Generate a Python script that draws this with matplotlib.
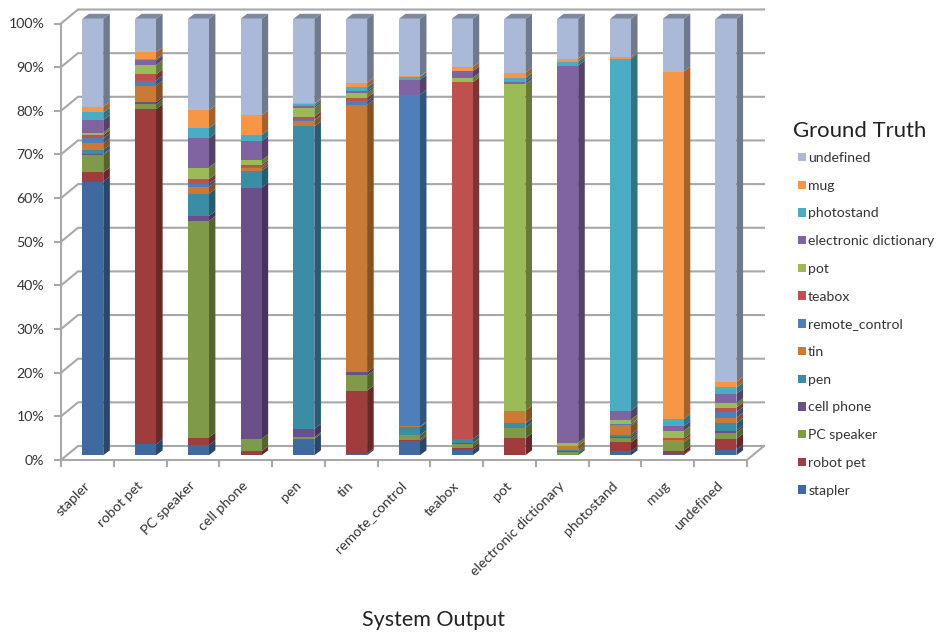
import numpy as np
import matplotlib
matplotlib.use("Agg")
import matplotlib.pyplot as plt
from matplotlib.patches import Patch, Polygon
from matplotlib.colors import to_rgb
from matplotlib.transforms import ScaledTranslation

plt.rcParams['font.family'] = ['Lato', 'DejaVu Sans']

categories = ["stapler", "robot pet", "PC speaker", "cell phone", "pen", "tin", "remote_control",
              "teabox", "pot", "electronic dictionary", "photostand", "mug", "undefined"]

# share of each ground truth class per system output, bottom of the stack first
stapler = [62.7, 2.5, 2.3, 0, 3.75, 0.4, 3.2, 1.2, 0, 0, 0.9, 0.2, 1.3]
robot_pet = [2.1, 76.8, 1.77, 0.9, 0, 14.4, 0.3, 0.55, 3.9, 0, 2.05, 0.8, 2.5]
pc_speaker = [4.0, 1.1, 49.6, 2.85, 0.4, 3.5, 1.07, 0.9, 2.45, 0.7, 0.9, 2.0, 1.4]
cell_phone = [0.2, 0.5, 1.15, 57.55, 1.9, 0.7, 0, 0.1, 0, 0.2, 0.4, 0, 0.45]
pen = [1.0, 0, 5.1, 3.85, 69.3, 0, 1.84, 0.9, 1.0, 0.35, 0.5, 0, 1.7]
tin = [1.5, 3.8, 1.6, 0.65, 1.35, 61.25, 0.2, 0, 2.9, 0.9, 2.1, 0.4, 1.25]
remote_control = [1.1, 1.15, 0.7, 0.3, 0.2, 0.9, 75.95, 0, 0, 0, 0.3, 0, 1.3]
teabox = [0.75, 1.4, 1.0, 0.4, 0.65, 0.75, 0, 81.8, 0, 0, 0, 0.45, 1.05]
pot = [0.6, 2.2, 2.7, 1.05, 2.0, 1.1, 0, 1.0, 74.85, 0.75, 1.05, 1.75, 1.0]
electronic_dictionary = [2.85, 1.0, 6.7, 4.4, 0.4, 0.4, 3.45, 1.5, 0.5, 86.4, 2.05, 1.05, 2.15]
photostand = [1.75, 0.3, 2.3, 1.4, 0.45, 0.9, 0.6, 0, 0.85, 0.9, 80.65, 1.7, 1.45]
mug = [1.3, 1.55, 4.1, 4.5, 0.25, 1.05, 0.2, 1.0, 1.2, 0.7, 0.45, 79.55, 1.3]
undefined = [20.15, 7.7, 20.98, 22.15, 19.35, 14.65, 13.19, 11.05, 12.35, 9.1, 8.65, 12.1, 83.15]

series = [stapler, robot_pet, pc_speaker, cell_phone, pen, tin, remote_control,
          teabox, pot, electronic_dictionary, photostand, mug, undefined]
colors = ["#3F6A9F", "#9E3D3B", "#7F9A48", "#6A4F8A", "#3B8DA6", "#CB7A36", "#4E7FBB",
          "#BE504D", "#9BBB59", "#8064A2", "#4BACC6", "#F79646", "#AAB9D7"]
grid_col = "#A8A8A8"

W, H = 938, 633
fig = plt.figure(figsize=(W / 100, H / 100), dpi=100)
# axes box is the front edge of the chart floor and wall
ax = fig.add_axes([61 / W, 1 - 460 / H, 686 / W, 436.5 / H])
ax.set_xlim(0, 13)
ax.set_ylim(0, 100)
px_x = 13 / 686
px_y = 100 / 436.5

# depth of the chart box
back_x, back_y = 17 * px_x, 14 * px_y
# bars sit part way into the box
front_x, front_y = 5.5 * px_x, 4.7 * px_y
depth_x, depth_y = 6.6 * px_x, 5 * px_y
bar_w = 21 * px_x

for v in range(0, 101, 10):
    ax.plot([0, back_x, 13 + back_x], [v, v + back_y, v + back_y], color=grid_col, lw=1.5,
            clip_on=False, zorder=1, solid_joinstyle='miter')
ax.plot([13, 13 + back_x], [0, back_y], color=grid_col, lw=1.5, clip_on=False, zorder=1)


def darker(col, f):
    return tuple(c * f for c in to_rgb(col))


data = np.array(series, dtype=float)
tops = np.cumsum(data, axis=0)
for i in range(len(categories)):
    x0 = i + 0.5 - bar_w / 2 + front_x - 0.5 * depth_x + 0.06
    x1 = x0 + bar_w
    z = 3 + i
    for j, col in enumerate(colors):
        if data[j, i] == 0:
            continue
        y1 = tops[j, i] + front_y
        y0 = y1 - data[j, i]
        ax.add_patch(Polygon([(x1, y0), (x1 + depth_x, y0 + depth_y), (x1 + depth_x, y1 + depth_y), (x1, y1)],
                             fc=darker(col, 0.66), ec='none', clip_on=False, zorder=z))
        ax.bar(x0, data[j, i], width=bar_w, bottom=y0, align='edge', color=col, lw=0, clip_on=False, zorder=z)
    # top face takes the colour of the last stacked segment
    y1 = tops[-1, i] + front_y
    ax.add_patch(Polygon([(x0, y1), (x0 + depth_x, y1 + depth_y), (x1 + depth_x, y1 + depth_y), (x1, y1)],
                         fc=darker(colors[-1], 0.74), ec='none', clip_on=False, zorder=z))

for s in ['top', 'right']:
    ax.spines[s].set_visible(False)
for s in ['left', 'bottom']:
    ax.spines[s].set_color(grid_col)
    ax.spines[s].set_linewidth(1.5)

ax.set_yticks(range(0, 101, 10))
ax.set_yticklabels(["%d%%" % v for v in range(0, 101, 10)])
ax.tick_params(axis='y', length=5, width=1.5, color=grid_col, pad=7, labelsize=10.2, labelcolor="#333333")

ax.set_xticks(range(14))
ax.set_xticklabels([])
ax.set_xticks(np.arange(13) + 0.5, minor=True)
ax.set_xticklabels(categories, minor=True, rotation=45, ha='right', va='top', rotation_mode='anchor')
ax.tick_params(axis='x', which='major', length=5, width=1.5, color=grid_col)
ax.tick_params(axis='x', which='minor', length=0, pad=14, labelsize=10.2, labelcolor="#333333")
# nudge the slanted names left so they end under their bars
shift = ScaledTranslation(-4 / 100, 0, fig.dpi_scale_trans)
for lab in ax.get_xticklabels(minor=True):
    lab.set_transform(lab.get_transform() + shift)

ax.set_xlabel("System Output", fontsize=15.5, color="#222222")
ax.xaxis.set_label_coords((433 - 61) / 686, (460 - 620) / 436.5)
ax.xaxis.label.set_va('center')

fig.text(793 / W, 1 - 131 / H, "Ground Truth", fontsize=15.9, color="#222222", va='center', ha='left')
handles = [Patch(fc=c, ec='none') for c in colors[::-1]]
leg = ax.legend(handles, categories[::-1], loc='upper left', bbox_to_anchor=(798 / W, 1 - 152 / H),
                bbox_transform=fig.transFigure, frameon=False, fontsize=10.1,
                handlelength=0.55, handleheight=0.55,
                handletextpad=0.18, labelspacing=1.12, borderpad=0, borderaxespad=0)
for t in leg.get_texts():
    t.set_color("#333333")

fig.savefig("out.png", dpi=100)
